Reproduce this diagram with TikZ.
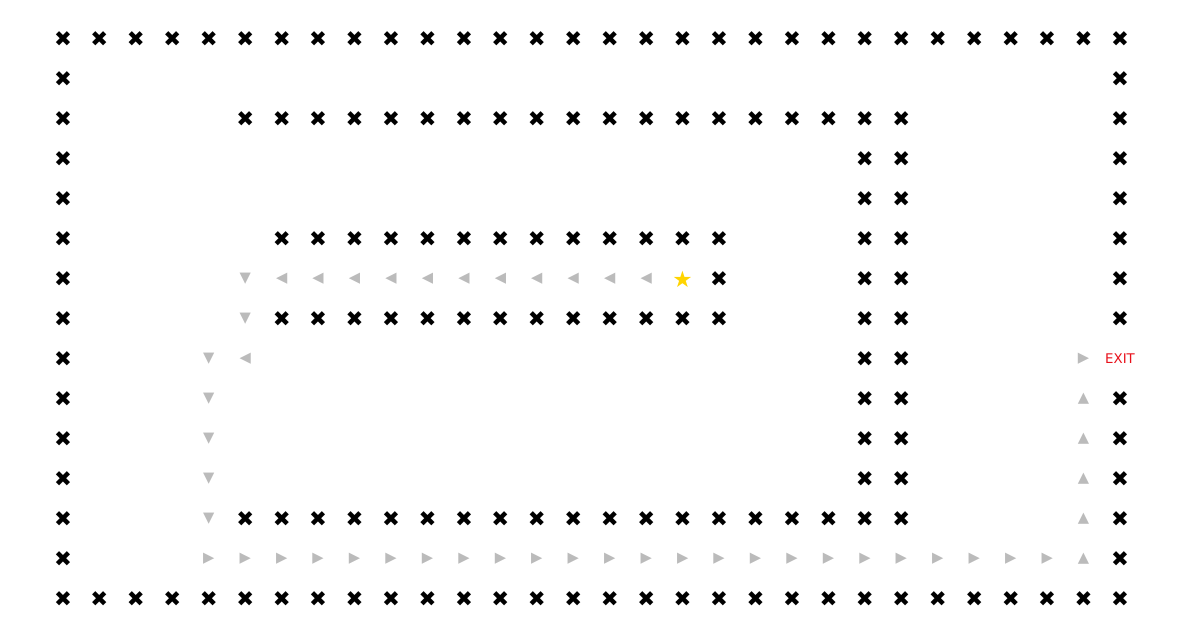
\documentclass[tikz,border=0pt]{standalone}
\usepackage{fontspec}
\setmainfont{DejaVu Sans}
\definecolor{trail}{HTML}{BBBBBB}
\definecolor{prize}{HTML}{FFD400}
\definecolor{exitred}{HTML}{E8101A}
\tikzset{wall/.style={inner sep=0pt, font=\fontsize{16}{16}\selectfont},
  trailmark/.style={inner sep=0pt, text=trail, font=\fontsize{11}{11}\selectfont}}

\begin{document}
\begin{tikzpicture}[x=27.34pt, y=-30pt]
  \useasboundingbox (-1.728,-0.975) rectangle (30.70,14.925);
  % outer walls
  \foreach \c in {0,...,29} {
    \node at (\c, 0) [wall] (top\c) {✖};
    \node at (\c, 14) [wall] (bot\c) {✖};
  }
  \foreach \r in {1,...,13} {
    \node at (0, \r) [wall] (left\r) {✖};
  }
  \foreach \r in {1,...,7,9,10,...,13} {
    \node at (29, \r) [wall] (right\r) {✖};
  }
  % inner walls
  \foreach \c in {5,...,23} {
    \node at (\c, 2) [wall] (upper\c) {✖};
    \node at (\c, 12) [wall] (lower\c) {✖};
  }
  \foreach \r in {3,...,11} {
    \node at (22, \r) [wall] (pillarA\r) {✖};
    \node at (23, \r) [wall] (pillarB\r) {✖};
  }
  \foreach \c in {6,...,18} {
    \node at (\c, 5) [wall] (roof\c) {✖};
    \node at (\c, 7) [wall] (floor\c) {✖};
  }
  \node at (18, 6) [wall] (cap) {✖};
  % the way out
  \node at (17, 6) [inner sep=0pt, text=prize, font=\fontsize{17}{17}\selectfont] (start) {★};
  \foreach \c in {6,...,16} {
    \node at (\c, 6) [trailmark] (w\c) {◀};
  }
  \foreach \c / \r in {5/6, 5/7, 4/8, 4/9, 4/10, 4/11, 4/12} {
    \node at (\c, \r) [trailmark] (s\c-\r) {▼};
  }
  \node at (5, 8) [trailmark] (turn) {◀};
  \foreach \c in {4,...,27} {
    \node at (\c, 13) [trailmark] (e\c) {▶};
  }
  \foreach \r in {9,...,13} {
    \node at (28, \r) [trailmark] (n\r) {▲};
  }
  \node at (28, 8) [trailmark] (last) {▶};
  \node at (29, 8) [inner sep=0pt, text=exitred, font=\fontsize{10}{10}\selectfont] (exit) {EXIT};
\end{tikzpicture}
\end{document}
